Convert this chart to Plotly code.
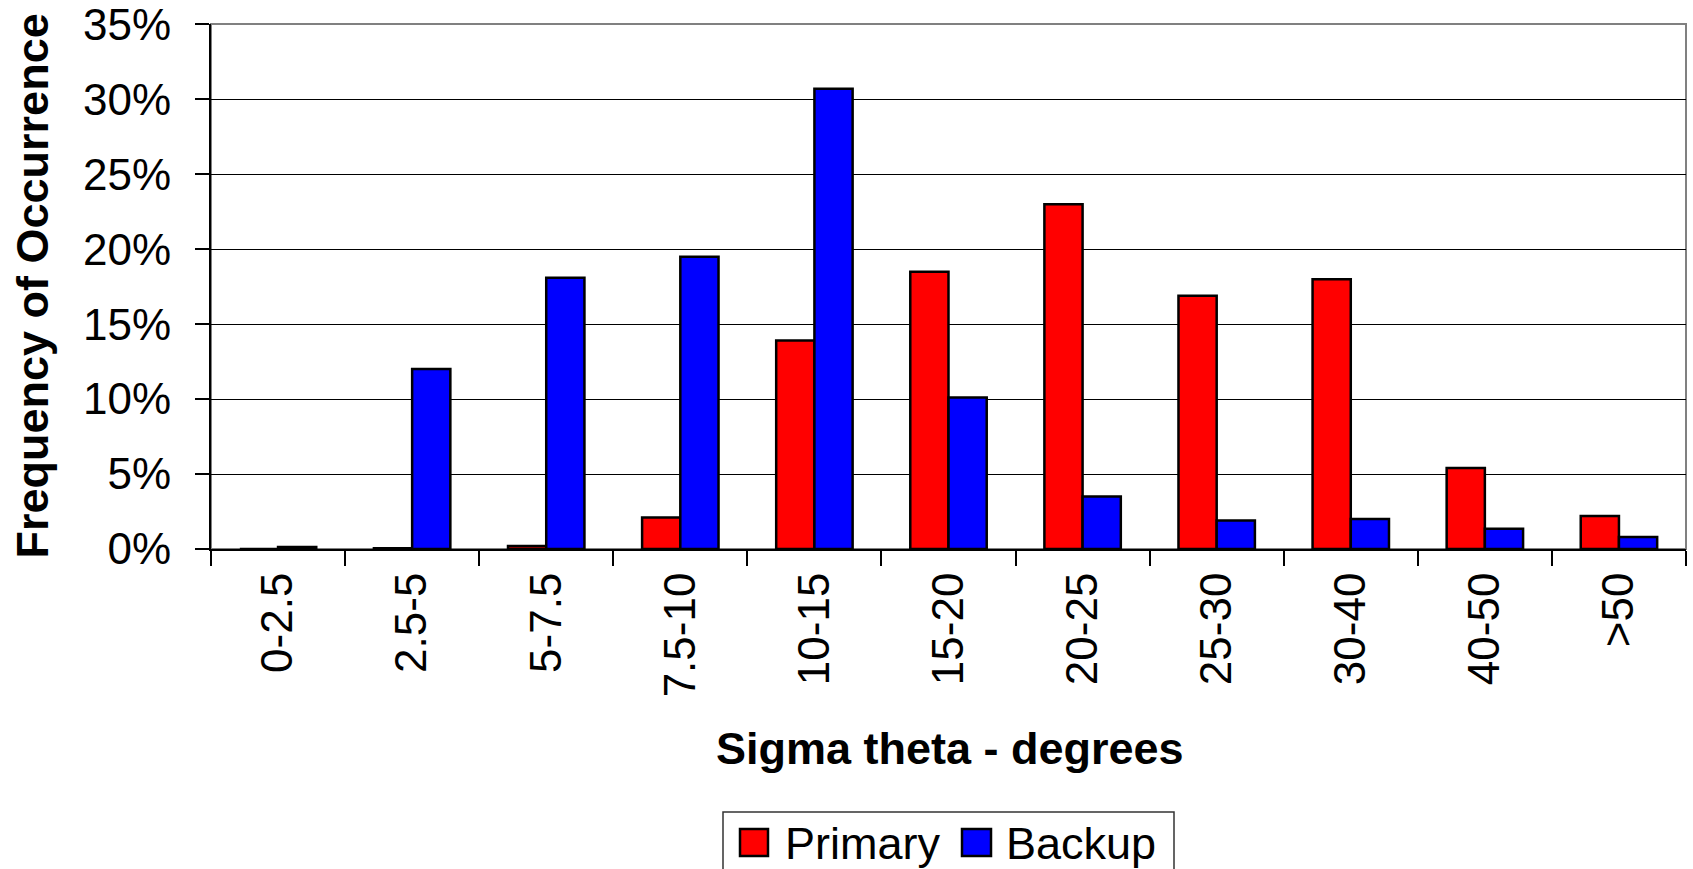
import plotly.graph_objects as go

categories = ["0-2.5", "2.5-5", "5-7.5", "7.5-10", "10-15", "15-20",
              "20-25", "25-30", "30-40", "40-50", ">50"]
primary = [0.0, 0.05, 0.2, 2.1, 13.9, 18.5, 23.0, 16.9, 18.0, 5.4, 2.2]
backup = [0.13, 12.0, 18.1, 19.5, 30.7, 10.1, 3.5, 1.9, 2.0, 1.35, 0.8]
series_names = ["Primary", "Backup"]
series_colors = ["#FF0000", "#0000FF"]
y_ticks = [0, 5, 10, 15, 20, 25, 30, 35]
y_ticktext = ["0%", "5%", "10%", "15%", "20%", "25%", "30%", "35%"]

W, H = 1693, 869
L, R, T, B = 211, 7, 24, 320
PW, PH = W - L - R, H - T - B
FONT = "Liberation Sans, Arial, sans-serif"


def px_x(p):
    return (p - L) / PW


def px_y(p):
    return (H - B - p) / PH


fig = go.Figure()
for name, vals, col in zip(series_names, [primary, backup], series_colors):
    fig.add_trace(go.Bar(
        x=categories, y=vals, name=name,
        marker=dict(color=col, line=dict(color="black", width=2.5)),
        showlegend=False,
    ))

shapes = [
    # plot area border
    dict(type="rect", xref="paper", yref="paper", x0=0, x1=1, y0=0, y1=1,
         line=dict(color="#808080", width=2), layer="below"),
    # legend box
    dict(type="rect", xref="paper", yref="paper",
         x0=px_x(723), x1=px_x(1174), y0=px_y(905), y1=px_y(812),
         line=dict(color="#333333", width=1.5), fillcolor="white"),
]
annotations = [
    dict(text="Frequency of Occurrence", xref="paper", yref="paper",
         x=px_x(32), y=0.5, textangle=-90, showarrow=False,
         xanchor="center", yanchor="middle",
         font=dict(family=FONT, size=45, color="black", weight="bold")),
    dict(text="Sigma theta - degrees", xref="paper", yref="paper",
         x=px_x(950), y=px_y(748), showarrow=False,
         xanchor="center", yanchor="middle",
         font=dict(family=FONT, size=45, color="black", weight="bold")),
]
legend_items = [(740, 768, 783), (962, 991, 1004)]
for (sx0, sx1, tx), name, col in zip(legend_items, series_names, series_colors):
    shapes.append(dict(type="rect", xref="paper", yref="paper",
                       x0=px_x(sx0), x1=px_x(sx1), y0=px_y(856), y1=px_y(829),
                       line=dict(color="black", width=2.5), fillcolor=col))
    annotations.append(dict(text=name, xref="paper", yref="paper",
                            x=px_x(tx), y=px_y(843), showarrow=False,
                            xanchor="left", yanchor="middle",
                            font=dict(family=FONT, size=45, color="black")))

fig.update_layout(
    width=W, height=H,
    margin=dict(l=L, r=R, t=T, b=B, pad=0, autoexpand=False),
    paper_bgcolor="white", plot_bgcolor="white",
    barmode="group", bargap=0.43, bargroupgap=0,
    font=dict(family=FONT, color="black"),
    shapes=shapes, annotations=annotations,
    showlegend=False,
    xaxis=dict(
        type="category", tickangle=-90, tickson="boundaries",
        ticks="outside", ticklen=15, tickwidth=1.5, tickcolor="black",
        showgrid=False, showline=True, linecolor="black", linewidth=2,
        tickfont=dict(family=FONT, size=44, color="black"),
        ticklabelstandoff=4, automargin=False,
    ),
    yaxis=dict(
        range=[0, 35.02], tickmode="array", tickvals=y_ticks, ticktext=y_ticktext,
        ticks="outside", ticklen=14, tickwidth=1.5, tickcolor="black",
        showgrid=True, gridcolor="black", gridwidth=1,
        showline=True, linecolor="black", linewidth=2,
        zeroline=False, ticklabeloverflow="allow", automargin=False,
        tickfont=dict(family=FONT, size=44, color="black"),
        ticklabelstandoff=15,
    ),
)

fig.write_html("out.html")
